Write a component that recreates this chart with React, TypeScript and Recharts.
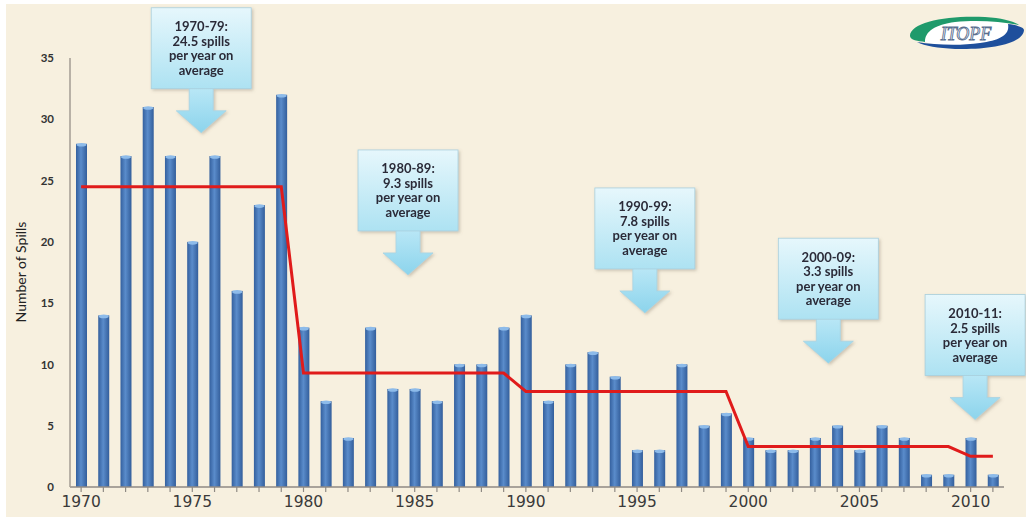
import React from 'react';
import { ComposedChart, Bar, Line, XAxis, YAxis, ReferenceDot } from 'recharts';

const years = [
  1970, 1971, 1972, 1973, 1974, 1975, 1976, 1977, 1978, 1979,
  1980, 1981, 1982, 1983, 1984, 1985, 1986, 1987, 1988, 1989,
  1990, 1991, 1992, 1993, 1994, 1995, 1996, 1997, 1998, 1999,
  2000, 2001, 2002, 2003, 2004, 2005, 2006, 2007, 2008, 2009,
  2010, 2011,
];
const spills = [
  28, 14, 27, 31, 27, 20, 27, 16, 23, 32,
  13, 7, 4, 13, 8, 8, 7, 10, 10, 13,
  14, 7, 10, 11, 9, 3, 3, 10, 5, 6,
  4, 3, 3, 4, 5, 3, 5, 4, 1, 1,
  4, 1,
];
const decadeAverage = [
  24.5, 24.5, 24.5, 24.5, 24.5, 24.5, 24.5, 24.5, 24.5, 24.5,
  9.3, 9.3, 9.3, 9.3, 9.3, 9.3, 9.3, 9.3, 9.3, 9.3,
  7.8, 7.8, 7.8, 7.8, 7.8, 7.8, 7.8, 7.8, 7.8, 7.8,
  3.3, 3.3, 3.3, 3.3, 3.3, 3.3, 3.3, 3.3, 3.3, 3.3,
  2.5, 2.5,
];
const xTickLabels = [1970, 1975, 1980, 1985, 1990, 1995, 2000, 2005, 2010];
const yTicks = [0, 5, 10, 15, 20, 25, 30, 35];

const calloutAnchors = [
  { year: 1975.4, value: 28.9, lines: ['1970-79:', '24.5 spills', 'per year on', 'average'] },
  { year: 1984.7, value: 17.3, lines: ['1980-89:', '9.3 spills', 'per year on', 'average'] },
  { year: 1995.35, value: 14.2, lines: ['1990-99:', '7.8 spills', 'per year on', 'average'] },
  { year: 2003.6, value: 10.1, lines: ['2000-09:', '3.3 spills', 'per year on', 'average'] },
  { year: 2010.2, value: 5.5, lines: ['2010-11:', '2.5 spills', 'per year on', 'average'] },
];

const data = years.map((y, i) => ({ year: y, spills: spills[i], avg: decadeAverage[i] }));

const BarShape = (props: any) => {
  const { x, y, width, height } = props;
  if (height <= 0) return null;
  return (
    <g>
      <rect x={x} y={y} width={width} height={height} fill="url(#barGrad)" />
      <ellipse cx={x + width / 2} cy={y + 1} rx={width / 2 - 0.5} ry={1.8} fill="#8DBBEA" />
    </g>
  );
};

const Callout = (props: any) => {
  const { cx, cy, lines } = props;
  const w = 100;
  const h = 81;
  const boxBottom = cy - 44;
  const boxTop = boxBottom - h;
  const left = cx - w / 2;
  const shaft = 12;
  const head = 25;
  const headH = 22;
  const arrow = `M ${cx - shaft} ${boxBottom - 1} L ${cx + shaft} ${boxBottom - 1} L ${cx + shaft} ${cy - headH} L ${cx + head} ${cy - headH} L ${cx} ${cy} L ${cx - head} ${cy - headH} L ${cx - shaft} ${cy - headH} Z`;
  return (
    <g filter="url(#calloutShadow)">
      <path d={arrow} fill="url(#arrowGrad)" stroke="#A9D3E2" strokeWidth={0.8} />
      <rect x={left} y={boxTop} width={w} height={h} fill="url(#boxGrad)" stroke="#A9CFDD" strokeWidth={0.8} />
      {lines.map((t: string, i: number) => (
        <text
          key={i}
          x={cx}
          y={boxTop + 23.5 + i * 14.5}
          textAnchor="middle"
          fontFamily="Lato, 'Open Sans', sans-serif"
          fontWeight="bold"
          fontSize={13}
          fill="#2B2B38"
        >
          {t}
        </text>
      ))}
    </g>
  );
};

const XTick = (props: any) => {
  const { x, y, payload } = props;
  const show = xTickLabels.includes(payload.value);
  return (
    <g>
      {show && (
        <text
          x={x}
          y={y + 13}
          textAnchor="middle"
          fontFamily="'DejaVu Sans', sans-serif"
          fontSize={15.5}
          fill="#3a3a3a"
        >
          {payload.value}
        </text>
      )}
    </g>
  );
};

export default function App() {
  return (
    <div style={{ position: 'absolute', left: 0, top: 0, width: 1026, height: 517, background: '#ffffff' }}>
      <div style={{ position: 'absolute', left: 6, top: 4, right: 0, bottom: 0, background: '#F7F0DF' }} />
      <div style={{ position: 'absolute', left: 0, top: 0 }}>
        <ComposedChart
          width={1026}
          height={517}
          data={data}
          margin={{ top: 58, right: 22, bottom: 0, left: 0 }}
        >
          <defs>
            <linearGradient id="barGrad" x1="0" y1="0" x2="1" y2="0">
              <stop offset="0%" stopColor="#34609E" />
              <stop offset="45%" stopColor="#5A8CCB" />
              <stop offset="100%" stopColor="#335E9B" />
            </linearGradient>
            <linearGradient id="boxGrad" x1="0" y1="0" x2="0" y2="1">
              <stop offset="0%" stopColor="#E6F7FC" />
              <stop offset="100%" stopColor="#ADE2F2" />
            </linearGradient>
            <linearGradient id="arrowGrad" x1="0" y1="0" x2="0" y2="1">
              <stop offset="0%" stopColor="#B9E7F6" />
              <stop offset="100%" stopColor="#8CD4EC" />
            </linearGradient>
            <filter id="calloutShadow" x="-20%" y="-20%" width="140%" height="140%">
              <feDropShadow dx="1.5" dy="1.5" stdDeviation="1.5" floodColor="#7a7060" floodOpacity="0.35" />
            </filter>
          </defs>
          <XAxis
            dataKey="year"
            type="number"
            domain={[1969.5, 2011.5]}
            ticks={years}
            interval={0}
            height={30}
            tick={<XTick />}
            tickSize={5}
            tickMargin={2}
            tickLine={{ stroke: '#8F8A84', strokeWidth: 1.2 }}
            axisLine={{ stroke: '#8F8A84', strokeWidth: 1.5 }}
          />
          <YAxis
            width={70}
            domain={[0, 35]}
            ticks={yTicks}
            interval={0}
            tickLine={false}
            tickSize={0}
            tickMargin={16}
            axisLine={{ stroke: '#A39D93', strokeWidth: 1.5 }}
            tick={{ fontFamily: "Lato, 'Open Sans', sans-serif", fontSize: 11.5, fontWeight: 'bold', fill: '#333' }}
          />
          <Bar dataKey="spills" barSize={11} shape={<BarShape />} isAnimationActive={false} />
          <Line
            dataKey="avg"
            type="linear"
            stroke="#E01B1B"
            strokeWidth={3}
            dot={false}
            activeDot={false}
            isAnimationActive={false}
          />
          {calloutAnchors.map((c, i) => (
            <ReferenceDot
              key={i}
              x={c.year}
              y={c.value}
              r={0}
              ifOverflow="visible"
              shape={(p: any) => <Callout cx={p.cx} cy={p.cy} lines={c.lines} />}
            />
          ))}
        </ComposedChart>
      </div>
      <svg
        width={1026}
        height={517}
        style={{ position: 'absolute', left: 0, top: 0, pointerEvents: 'none' }}
      >
        <text
          transform="translate(26 272) rotate(-90)"
          textAnchor="middle"
          fontFamily="Lato, 'Open Sans', sans-serif"
          fontSize={14}
          fill="#222"
        >
          Number of Spills
        </text>
        <g>
          <ellipse cx={967} cy={33} rx={55} ry={14} fill="#ffffff" />
          <path d="M 910 36 C 910 22, 948 15, 985 17 C 1002 18, 1013 21, 1019 25 C 1000 21, 975 20, 955 22 C 935 25, 925 31, 925 42 C 918 41, 910 40, 910 36 Z" fill="#1F9A6B" />
          <path d="M 1024 30 C 1023 44, 990 50, 955 49 C 938 48, 925 46, 917 42 C 935 45, 960 46, 980 43 C 1000 40, 1010 35, 1008 24 C 1016 25, 1024 27, 1024 30 Z" fill="#1E4F9C" />
          <text
            x={966}
            y={40}
            textAnchor="middle"
            fontFamily="'Liberation Serif', serif"
            fontStyle="italic"
            fontSize={18}
            fill="#ffffff"
            stroke="#5A6F8F"
            strokeWidth={0.9}
          >
            ITOPF
          </text>
        </g>
      </svg>
    </div>
  );
}
